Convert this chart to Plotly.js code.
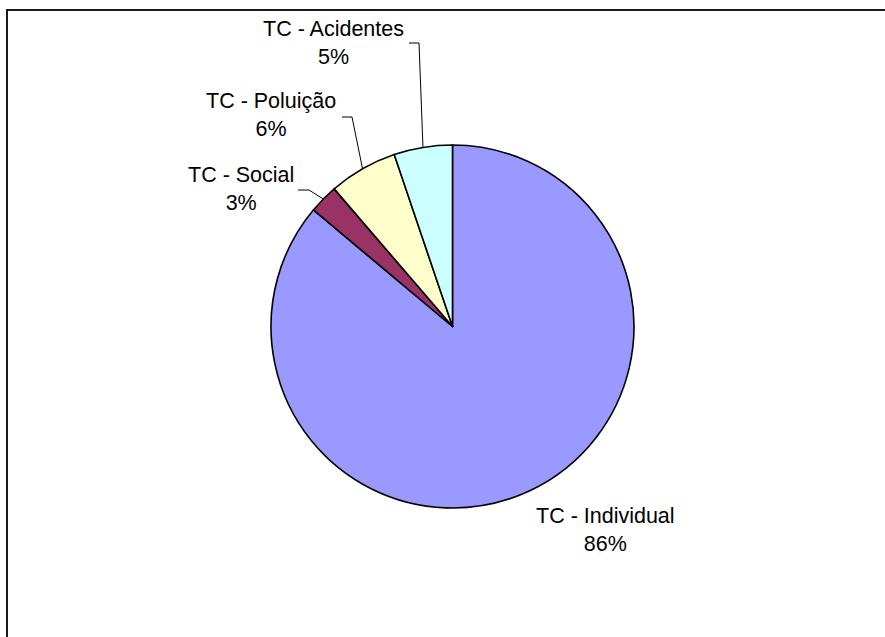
<!DOCTYPE html>
<html>
<head>
<meta charset="utf-8">
<script src="https://cdn.plot.ly/plotly-3.0.1.min.js"></script>
<style>html,body{margin:0;padding:0;background:#fff;}#chart{width:885px;height:637px;}</style>
</head>
<body>
<div id="chart"></div>
<script>
// ---- data ----
var categories = ["TC - Individual", "TC - Social", "TC - Poluição", "TC - Acidentes"];
var values = [86.1, 2.6, 6.1, 5.2];
var colors = ["#9999FF", "#993366", "#FFFFCC", "#CCFFFF"];

// ---- layout constants (pixels) ----
var W = 885, H = 637;
var CX = 452.5, CY = 326.5, R = 181.5;
// label block centres and leader elbows (null = no leader)
var labelPos = [
  {x: 605, y: 530, leader: null},
  {x: 241, y: 188.5, leader: {x0: 298, x1: 309, y: 190}},
  {x: 271, y: 115, leader: {x0: 342, x1: 352, y: 117}},
  {x: 333, y: 43, leader: {x0: 409, x1: 419, y: 43}}
];

function px(x) { return x / W; }
function py(y) { return 1 - y / H; }

var total = values.reduce(function (a, b) { return a + b; }, 0);

var trace = {
  type: "pie",
  labels: categories,
  values: values,
  sort: false,
  direction: "clockwise",
  rotation: 0,
  textinfo: "none",
  hoverinfo: "label+percent",
  marker: {colors: colors, line: {color: "#000000", width: 1.6}},
  domain: {x: [px(CX - R), px(CX + R)], y: [py(CY + R), py(CY - R)]},
  showlegend: false
};

var annotations = [];
var shapes = [];
var cum = 0;
for (var i = 0; i < values.length; i++) {
  var frac = values[i] / total;
  var mid = (cum + frac / 2) * 2 * Math.PI; // clockwise from 12 o'clock
  cum += frac;
  var ex = CX + R * Math.sin(mid);
  var ey = CY - R * Math.cos(mid);
  var lp = labelPos[i];
  annotations.push({
    xref: "paper", yref: "paper",
    x: px(lp.x), y: py(lp.y),
    xanchor: "center", yanchor: "middle",
    text: categories[i] + "<br>" + Math.round(frac * 100) + "%",
    showarrow: false,
    align: "center",
    font: {family: "Liberation Sans, Arial, sans-serif", size: 21.5, color: "#000000"}
  });
  if (lp.leader) {
    var L = lp.leader;
    shapes.push({
      type: "path", xref: "paper", yref: "paper",
      path: "M " + px(L.x0) + " " + py(L.y) + " L " + px(L.x1) + " " + py(L.y) + " L " + px(ex) + " " + py(ey),
      line: {color: "#000000", width: 1}
    });
  }
}

// chart border (extends past the image on right / bottom)
shapes.push({
  type: "rect", xref: "paper", yref: "paper",
  x0: px(7), y0: py(660), x1: px(910), y1: py(10),
  line: {color: "#1a1a1a", width: 2}
});

var layout = {
  width: W, height: H,
  margin: {l: 0, r: 0, t: 0, b: 0},
  paper_bgcolor: "#ffffff",
  plot_bgcolor: "#ffffff",
  annotations: annotations,
  shapes: shapes,
  showlegend: false
};

Plotly.newPlot("chart", [trace], layout, {displayModeBar: false, staticPlot: true});
</script>
</body>
</html>
